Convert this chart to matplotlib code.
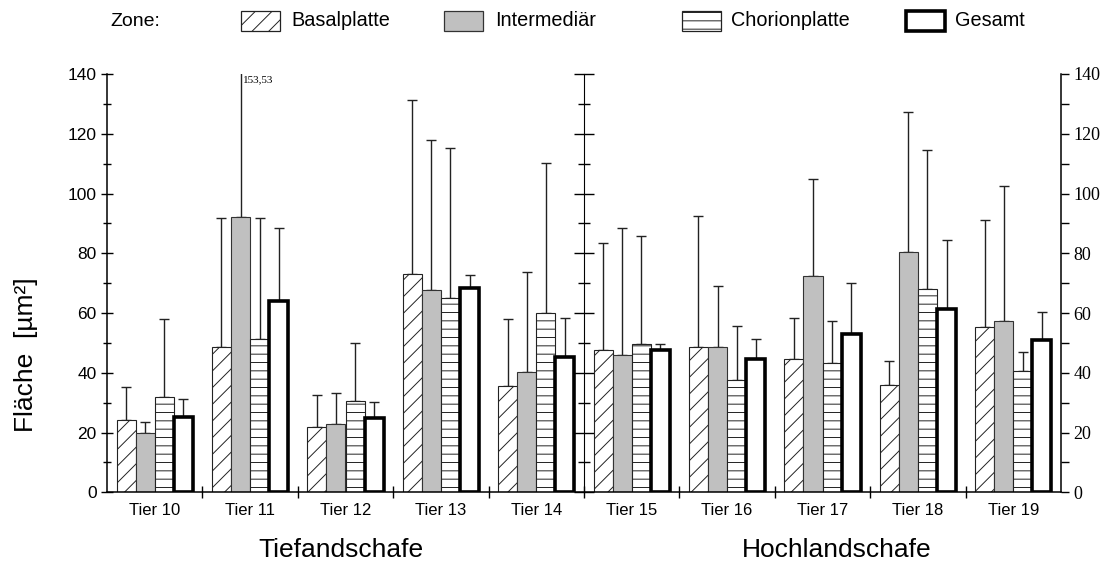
import numpy as np
import matplotlib
matplotlib.use("Agg")
import matplotlib.pyplot as plt
from matplotlib.patches import Rectangle
from matplotlib.ticker import MultipleLocator, FixedLocator, NullFormatter

matplotlib.rcParams['font.family'] = ['Liberation Sans', 'DejaVu Sans']
matplotlib.rcParams['hatch.linewidth'] = 0.7

tiere = ['Tier 10', 'Tier 11', 'Tier 12', 'Tier 13', 'Tier 14',
         'Tier 15', 'Tier 16', 'Tier 17', 'Tier 18', 'Tier 19']
zonen = ['Basalplatte', 'Intermediär', 'Chorionplatte', 'Gesamt']

# mean values
basal = [24.1, 48.5, 22.0, 73.2, 35.6, 47.5, 48.5, 44.5, 35.8, 55.2]
inter = [19.9, 92.0, 22.9, 67.8, 40.4, 46.1, 48.5, 72.5, 80.3, 57.4]
chorion = [31.8, 51.2, 30.7, 65.1, 60.1, 49.7, 37.5, 43.2, 67.9, 40.5]
gesamt = [25.1, 63.9, 25.0, 68.5, 45.2, 47.6, 44.6, 53.1, 61.3, 50.9]

# mean + SD (top of error bar)
basal_top = [35.3, 91.9, 32.5, 131.2, 57.9, 83.3, 92.6, 58.2, 43.9, 91.1]
inter_top = [23.6, 153.53, 33.1, 117.9, 73.8, 88.6, 69.1, 104.9, 127.2, 102.5]
chorion_top = [58.1, 91.8, 50.0, 115.3, 110.1, 85.9, 55.5, 57.4, 114.5, 47.1]
gesamt_top = [31.2, 88.6, 30.1, 72.8, 58.4, 49.7, 51.2, 70.2, 84.3, 60.3]

gruppen = ['Tiefandschafe', 'Hochlandschafe']
y_ticks = np.arange(0, 141, 20)

fig = plt.figure(figsize=(11.02, 5.68), dpi=100)
ax = fig.add_axes([107/1102, 1-492.3/568, (1061-107)/1102, (492.3-74)/568])

x = np.arange(len(tiere))
w = 0.2
series = [basal, inter, chorion, gesamt]
tops = [basal_top, inter_top, chorion_top, gesamt_top]
styles = [dict(facecolor='white', hatch='//', edgecolor='#222222', linewidth=0.8),
          dict(facecolor='#c0c0c0', edgecolor='#333333', linewidth=0.8),
          dict(facecolor='white', hatch='--', edgecolor='#222222', linewidth=0.8),
          dict(facecolor='white', edgecolor='black', linewidth=2.6)]

for i, (vals, top, st) in enumerate(zip(series, tops, styles)):
    pos = x + (i - 1.5) * w
    vals = np.array(vals)
    err = np.array(top) - vals
    ax.errorbar(pos, vals, yerr=[np.zeros_like(err), err], fmt='none',
                ecolor='#222222', elinewidth=1.0, capsize=3.5, capthick=1.0, zorder=1)
    ax.bar(pos, vals, width=w, zorder=2, **st)

# label for the clipped error bar
ax.annotate('153,53', xy=(x[1] - 0.5 * w, 140), xytext=(1.5, -1), textcoords='offset points',
            ha='left', va='top', fontsize=8, family=['Liberation Serif', 'DejaVu Serif'])

ax.set_xlim(-0.5, 9.5)
ax.set_ylim(0, 140)
ax.spines['top'].set_visible(False)
ax.spines['right'].set_visible(False)
for s in ['left', 'bottom']:
    ax.spines[s].set_linewidth(1.1)

ax.set_yticks(y_ticks)
ax.yaxis.set_minor_locator(MultipleLocator(10))
ax.tick_params(axis='y', which='major', direction='inout', length=9, width=1.0, labelsize=12.5, pad=3)
ax.tick_params(axis='y', which='minor', direction='inout', length=6, width=1.0)

ax.set_xticks(x)
ax.set_xticklabels(tiere)
ax.xaxis.set_minor_locator(FixedLocator(np.arange(0.5, 9.5, 1.0)))
ax.tick_params(axis='x', which='major', length=0, labelsize=12, pad=8)
ax.tick_params(axis='x', which='minor', direction='inout', length=8, width=1.0)

# middle axis
mid = ax.secondary_yaxis(0.5)
mid.spines['left'].set_linewidth(1.1)
mid.yaxis.set_major_locator(MultipleLocator(20))
mid.yaxis.set_minor_locator(MultipleLocator(10))
mid.yaxis.set_major_formatter(NullFormatter())
mid.tick_params(which='major', direction='inout', length=15, width=1.0)
mid.tick_params(which='minor', direction='inout', length=9, width=1.0)

# right axis (serif labels)
right = ax.secondary_yaxis('right')
right.spines['right'].set_linewidth(1.1)
right.set_yticks(y_ticks)
right.set_yticklabels([str(v) for v in y_ticks], fontsize=13,
                      family=['Liberation Serif', 'DejaVu Serif'])
right.yaxis.set_minor_locator(MultipleLocator(10))
right.tick_params(which='major', direction='out', length=6, width=1.0, pad=3)
right.tick_params(which='minor', direction='out', length=6, width=1.0)

# axis label and group labels
fig.text(26/1102, 1-355/568, 'Fläche  [µm²]', rotation=90, ha='center', va='center', fontsize=19)
trans = matplotlib.transforms.blended_transform_factory(ax.transData, fig.transFigure)
ax.text(1.95, 1-550/568, gruppen[0], transform=trans, ha='center', va='center', fontsize=19)
ax.text(7.15, 1-550/568, gruppen[1], transform=trans, ha='center', va='center', fontsize=19)

# legend row
fig.text(110/1102, 1-21/568, 'Zone:', ha='left', va='center', fontsize=14)
box_x = [241, 444, 682, 906]
text_x = [291, 495, 731, 955]
for i, name in enumerate(zonen):
    st = dict(styles[i])
    lw = st.pop('linewidth')
    fig.patches.append(Rectangle((box_x[i]/1102, 1-30.5/568), 39/1102, 20/568,
                                 transform=fig.transFigure, linewidth=lw if i == 3 else 0.9, **st))
    fig.text(text_x[i]/1102, 1-21/568, name, ha='left', va='center', fontsize=14.3)

fig.savefig('out.png', dpi=100)
